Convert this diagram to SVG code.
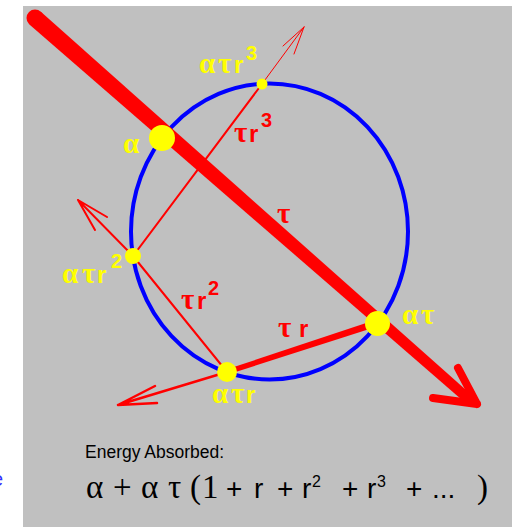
<svg xmlns="http://www.w3.org/2000/svg" width="512" height="527" viewBox="0 0 512 527">
<style>
.y{fill:#ffff00}
.rd{fill:#ff0000}
.gk{font-family:"Liberation Serif",serif;font-weight:bold;font-size:29px}
.lt{font-family:"Liberation Sans",sans-serif;font-weight:bold;font-size:24px}
.sup{font-family:"Liberation Sans",sans-serif;font-weight:bold;font-size:20px}
.ln{stroke:#ff0000;fill:none;stroke-linecap:round;stroke-linejoin:round}
.fs{font-family:"Liberation Serif",serif;font-size:33px;fill:#000}
.fa{font-family:"Liberation Sans",sans-serif;font-size:28px;fill:#000}
.fsup{font-family:"Liberation Sans",sans-serif;font-size:16px;fill:#000}
</style>
<rect width="512" height="527" fill="#ffffff"/>
<rect x="23" y="6" width="489" height="521" fill="#c0c0c0"/>
<text x="-8" y="486" font-family="Liberation Sans, sans-serif" font-size="20" fill="#3030ff">e</text>

<g id="sphere">
<ellipse cx="269.5" cy="231.5" rx="138.5" ry="148" fill="none" stroke="#0000ff" stroke-width="4"/>
</g>

<g id="connectors">
<circle cx="35" cy="18" r="8.5" fill="#ff0000"/>
<polygon points="40.6,11.6 475.3,398.2 468.7,405.8 29.4,24.4" fill="#ff0000"/>
<path d="M433,398 L477,404 M458,368 L477,404" class="ln" stroke-width="8"/>
<polygon points="375.9,319.7 378.1,326.3 227.8,374.4 226.2,369.6" fill="#ff0000"/>
<path d="M227,372 L118,405 M118,405 L155,386 M118,405 L157,403" class="ln" stroke-width="2.5"/>
<path d="M227,372 L133,256" class="ln" stroke-width="2"/>
<path d="M133,256 L78,200 M78,200 L107,217 M78,200 L95,230" class="ln" stroke-width="2"/>
<path d="M133,256 L262,84" class="ln" stroke-width="2"/>
<path d="M262,84 L304,27 M304,27 L283,46 M304,27 L294,54" class="ln" stroke-width="1"/>
</g>

<g id="n-alpha">
<circle cx="162" cy="138" r="13" class="y"/>
<text x="123" y="153" class="gk y">α</text>
</g>
<g id="n-atr3">
<circle cx="262" cy="84" r="5.5" class="y"/>
<text y="73" class="y"><tspan x="199" class="gk">α</tspan><tspan x="218" class="gk">τ</tspan><tspan x="234" class="lt">r</tspan><tspan x="246" y="60" class="sup">3</tspan></text>
<text y="142" class="rd"><tspan x="234" class="gk">τ</tspan><tspan x="249" class="lt">r</tspan><tspan x="261" y="127" class="sup">3</tspan></text>
</g>
<g id="n-atr2">
<circle cx="133" cy="256" r="8" class="y"/>
<text y="283" class="y"><tspan x="62" class="gk">α</tspan><tspan x="82" class="gk">τ</tspan><tspan x="97" class="lt">r</tspan><tspan x="111" y="268" class="sup">2</tspan></text>
<text y="309" class="rd"><tspan x="181" class="gk">τ</tspan><tspan x="197" class="lt">r</tspan><tspan x="208" y="295" class="sup">2</tspan></text>
</g>
<g id="n-atr">
<circle cx="227" cy="372" r="10" class="y"/>
<text y="403" class="y"><tspan x="212" class="gk">α</tspan><tspan x="231" class="gk">τ</tspan><tspan x="246" class="lt">r</tspan></text>
<text y="337" class="rd"><tspan x="278" class="gk">τ</tspan><tspan x="299" class="lt">r</tspan></text>
</g>
<g id="n-at">
<circle cx="377.5" cy="323.5" r="12.5" class="y"/>
<text y="324" class="y"><tspan x="402" class="gk">α</tspan><tspan x="421" class="gk">τ</tspan></text>
<text x="277" y="223" class="gk rd">τ</text>
</g>

<g id="caption">
<text x="85" y="458" font-family="Liberation Sans, sans-serif" font-size="17.5" fill="#000">Energy Absorbed:</text>
<text y="498"><tspan x="86" class="fs">α</tspan><tspan x="113" class="fs">+</tspan><tspan x="141" class="fs">α</tspan><tspan x="168" class="fs">τ</tspan><tspan x="190" class="fs">(</tspan><tspan x="202" class="fs">1</tspan><tspan x="226" class="fa">+</tspan><tspan x="254" class="fa">r</tspan><tspan x="277" class="fa">+</tspan><tspan x="302" class="fa">r</tspan><tspan x="312" y="487" class="fsup">2</tspan><tspan x="342" y="498" class="fa">+</tspan><tspan x="367" class="fa">r</tspan><tspan x="377" y="487" class="fsup">3</tspan><tspan x="406" y="498" class="fa">+</tspan><tspan x="432" class="fa">...</tspan><tspan x="477" class="fs">)</tspan></text>
</g>
</svg>
